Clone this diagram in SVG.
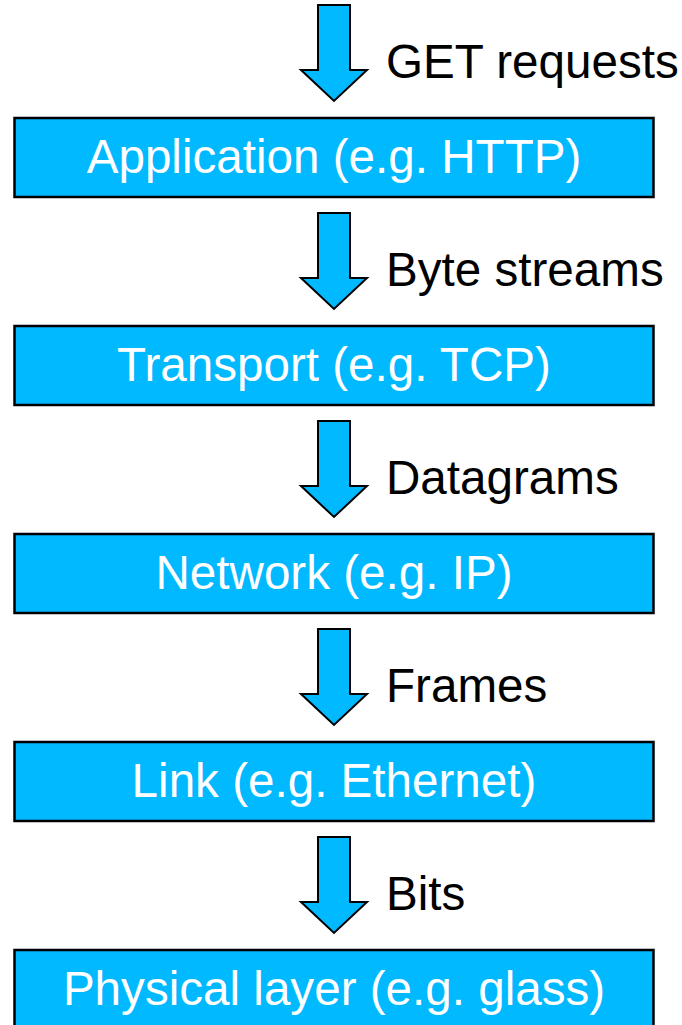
<svg xmlns="http://www.w3.org/2000/svg" width="682" height="1025" viewBox="0 0 682 1025">
<style>
.box{fill:#00B9FF;stroke:#000;stroke-width:2.5}
.arr{fill:#00B9FF;stroke:#000;stroke-width:2;stroke-linejoin:miter}
.bt{font-family:"Liberation Sans",Arial,sans-serif;font-size:47.6px;fill:#fff;text-anchor:middle}
.lt{font-family:"Liberation Sans",Arial,sans-serif;font-size:47.6px;fill:#000}
</style>
<defs>
<path id="ar" d="M318,5 L350,5 L350,70 L367,70 L334,101 L301,70 L318,70 Z"/>
</defs>
<rect width="682" height="1025" fill="#fff"/>
<g id="connectors">
<g id="arrow1"><use href="#ar" class="arr"/><text class="lt" x="386" y="78">GET requests</text></g>
<g id="arrow2" transform="translate(0,208)"><use href="#ar" class="arr"/><text class="lt" x="386" y="78">Byte streams</text></g>
<g id="arrow3" transform="translate(0,416)"><use href="#ar" class="arr"/><text class="lt" x="386" y="78">Datagrams</text></g>
<g id="arrow4" transform="translate(0,624)"><use href="#ar" class="arr"/><text class="lt" x="386" y="78">Frames</text></g>
<g id="arrow5" transform="translate(0,832)"><use href="#ar" class="arr"/><text class="lt" x="386" y="78">Bits</text></g>
</g>
<g id="application"><rect class="box" x="14.5" y="118" width="639" height="79"/><text class="bt" x="334" y="173">Application (e.g. HTTP)</text></g>
<g id="transport"><rect class="box" x="14.5" y="326" width="639" height="79"/><text class="bt" x="334" y="381">Transport (e.g. TCP)</text></g>
<g id="network"><rect class="box" x="14.5" y="534" width="639" height="79"/><text class="bt" x="334" y="589">Network (e.g. IP)</text></g>
<g id="link"><rect class="box" x="14.5" y="742" width="639" height="79"/><text class="bt" x="334" y="797">Link (e.g. Ethernet)</text></g>
<g id="physical"><rect class="box" x="14.5" y="950" width="639" height="79"/><text class="bt" x="334" y="1005">Physical layer (e.g. glass)</text></g>
</svg>
